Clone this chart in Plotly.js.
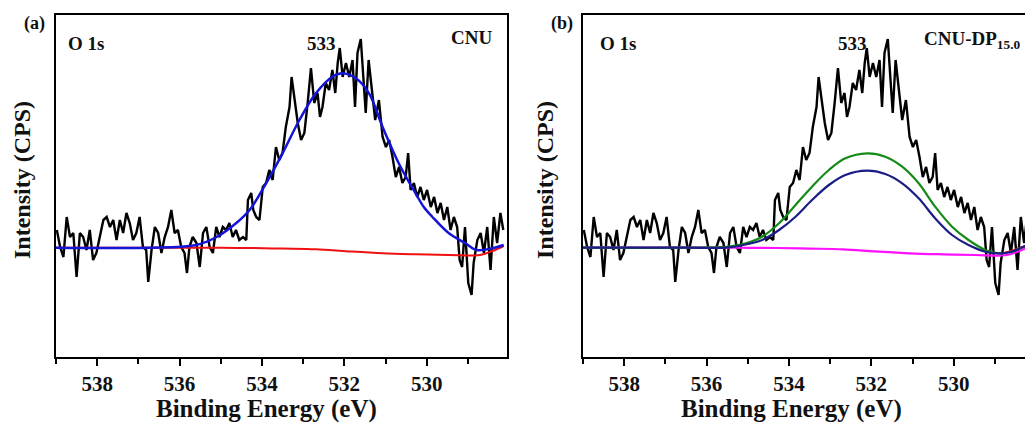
<!DOCTYPE html>
<html>
<head>
<meta charset="utf-8">
<script src="https://cdn.plot.ly/plotly-3.0.1.min.js"></script>
<style>
html,body{margin:0;padding:0;background:#fff;overflow:hidden;width:1025px;height:423px;}
#chart{width:1045px;height:423px;}
</style>
</head>
<body>
<div id="chart"></div>
<script>
// Measured O 1s spectrum (binding energy, eV) and intensity (arb. CPS)
const energy = [538.98,538.90,538.82,538.74,538.66,538.58,538.50,538.42,538.34,538.26,538.18,538.10,538.02,537.94,537.85,537.77,537.69,537.61,537.53,537.45,537.37,537.29,537.21,537.13,537.05,536.97,536.89,536.81,536.76,536.68,536.60,536.52,536.44,536.36,536.28,536.20,536.12,536.04,535.96,535.88,535.82,535.76,535.68,535.59,535.51,535.43,535.35,535.27,535.19,535.11,535.03,534.95,534.87,534.79,534.71,534.63,534.55,534.46,534.38,534.34,534.26,534.21,534.14,534.06,533.98,533.90,533.82,533.74,533.66,533.58,533.50,533.42,533.33,533.28,533.21,533.13,533.05,532.97,532.89,532.81,532.73,532.65,532.59,532.53,532.45,532.37,532.29,532.22,532.16,532.11,532.04,531.96,531.88,531.80,531.74,531.68,531.60,531.54,531.48,531.41,531.33,531.25,531.16,531.07,530.99,530.91,530.83,530.75,530.67,530.59,530.51,530.45,530.39,530.31,530.23,530.15,530.07,529.99,529.90,529.82,529.74,529.66,529.58,529.50,529.42,529.34,529.26,529.20,529.14,529.07,528.99,528.91,528.86,528.77,528.69,528.61,528.53,528.45,528.37,528.29,528.21,528.14];
const intensity = [127,110,100,140,120,124,80,124,120,107,127,97,104,120,137,140,130,137,117,137,124,144,134,117,124,140,110,107,75,107,130,124,104,120,130,147,124,127,110,104,84,110,120,114,90,124,130,110,104,130,120,130,127,134,120,127,117,120,117,157,164,147,140,137,170,174,187,177,210,197,204,230,250,280,257,234,217,224,254,289,254,264,240,250,274,267,287,264,294,309,280,294,280,297,250,304,318,280,244,297,264,237,257,220,210,217,200,180,190,174,180,204,167,174,160,170,157,167,150,160,144,154,137,150,127,140,130,97,90,130,74,62,94,117,124,104,130,87,140,114,144,127];

// Panel (a) fit: peak envelope and background
const fitE = [539.0,536.8,535.6,535.1,534.63,534.3,533.9,533.5,533.09,532.69,532.29,532.04,531.72,531.4,531.07,530.67,530.27,530.07,529.86,529.46,529.06,528.78,528.41,528.13];
const fitA = [109.3,109.3,112,120,133.7,147,173.7,203.7,237,263.7,280.3,283.7,278.7,263.7,230,193,163.7,150,140,123.7,113.7,107,108.7,112];
const bgE = [539.0,536.0,535.0,534.3,533.5,532.69,531.9,531.07,530.27,529.46,528.82,528.6,528.4,528.13];
const bgV = [109.3,109.3,109.2,109,108.4,107.7,105.6,103.7,102.7,102,101.5,103,106,111];

// Panel (b) components
const compE = [539.0,536.5,535.46,535.05,534.65,534.24,533.84,533.44,533.03,532.63,532.1,531.66,531.25,530.85,530.45,530.04,529.64,529.23,528.91,528.59,528.3,528.1];
const green = [109.3,109.3,110.3,113.7,120.3,133.7,152,170.3,187,198.7,203.7,200.3,190.3,173.7,150.3,130.3,117,107,103.7,105.3,110.3,113];
const navy  = [109.3,109.3,109.6,112.5,117,127,140.3,157,172,182,186.3,183,173.7,158.7,138.7,122,112,105.3,103.7,105.3,110.3,113];
const envE = [528.8,528.6,528.4,528.2,528.05];
const envV = [104,106,109,112,114];

const xTicks = [538,536,534,532,530];
const W = 1045;
const font = 'Liberation Serif, Times New Roman, serif';

const traces = [
  {x: energy, y: intensity, xaxis:'x', yaxis:'y', mode:'lines', line:{color:'#000', width:2.4}},
  {x: bgE, y: bgV, xaxis:'x', yaxis:'y', mode:'lines', line:{color:'#f01010', width:2, shape:'spline'}},
  {x: fitE, y: fitA, xaxis:'x', yaxis:'y', mode:'lines', line:{color:'#1414d8', width:2.5, shape:'spline'}},

  {x: energy, y: intensity, xaxis:'x2', yaxis:'y2', mode:'lines', line:{color:'#000', width:2.4}},
  {x: envE, y: envV, xaxis:'x2', yaxis:'y2', mode:'lines', line:{color:'#f01010', width:2, shape:'spline'}},
  {x: bgE, y: bgV, xaxis:'x2', yaxis:'y2', mode:'lines', line:{color:'#ff10ff', width:2.2, shape:'spline'}},
  {x: compE, y: green, xaxis:'x2', yaxis:'y2', mode:'lines', line:{color:'#168a16', width:2.2, shape:'spline'}},
  {x: compE, y: navy, xaxis:'x2', yaxis:'y2', mode:'lines', line:{color:'#1c1c86', width:2.2, shape:'spline'}}
];

function xa(d0, d1, anchor){
  return {domain:[d0/W, d1/W], range:[539.0,528.05], anchor:anchor,
    tickvals: xTicks, ticks:'outside', ticklen:7, tickwidth:2, tickcolor:'#000',
    minor:{dtick:1, tick0:530, ticks:'outside', ticklen:5, tickwidth:2, tickcolor:'#000'},
    showline:true, linewidth:2, linecolor:'#000', mirror:true, showgrid:false, zeroline:false,
    tickfont:{family:font, size:21, color:'#111', weight:'bold'}};
}
function ya(anchor){
  return {domain:[0,1], range:[0,342], anchor:anchor, showticklabels:false, ticks:'',
    showline:true, linewidth:2, linecolor:'#000', mirror:true, showgrid:false, zeroline:false};
}
function py(p){ return (357-p)/342; }
function ann(text, xp, yp, size, xanchor, angle){
  return {text:text, xref:'paper', yref:'paper', x:xp/W, y:py(yp), xanchor:xanchor||'center', yanchor:'middle',
    showarrow:false, textangle:angle||0, font:{family:font, size:size, color:'#111', weight:'bold'}};
}

const layout = {
  width: W, height: 423, showlegend:false,
  margin:{l:0, r:0, t:15, b:66, pad:0},
  paper_bgcolor:'#fff', plot_bgcolor:'#fff',
  xaxis: xa(56, 507, 'y'),
  yaxis: ya('x'),
  xaxis2: xa(583, 1034, 'y2'),
  yaxis2: ya('x2'),
  annotations: [
    ann('(a)', 34, 24, 18),
    ann('(b)', 562, 24, 18),
    ann('O 1s', 86, 43, 19),
    ann('O 1s', 618, 43, 19),
    ann('533', 321, 43, 19),
    ann('533', 852, 43, 19),
    ann('CNU', 471, 37, 19),
    ann('CNU-DP<sub>15.0</sub>', 922, 40, 19, 'left'),
    ann('Binding Energy (eV)', 266, 409, 25),
    ann('Binding Energy (eV)', 791, 409, 25),
    ann('Intensity (CPS)', 22, 180, 24, 'center', -90),
    ann('Intensity (CPS)', 545, 180, 24, 'center', -90)
  ]
};

Plotly.newPlot('chart', traces, layout, {displayModeBar:false, staticPlot:true});
</script>
</body>
</html>
